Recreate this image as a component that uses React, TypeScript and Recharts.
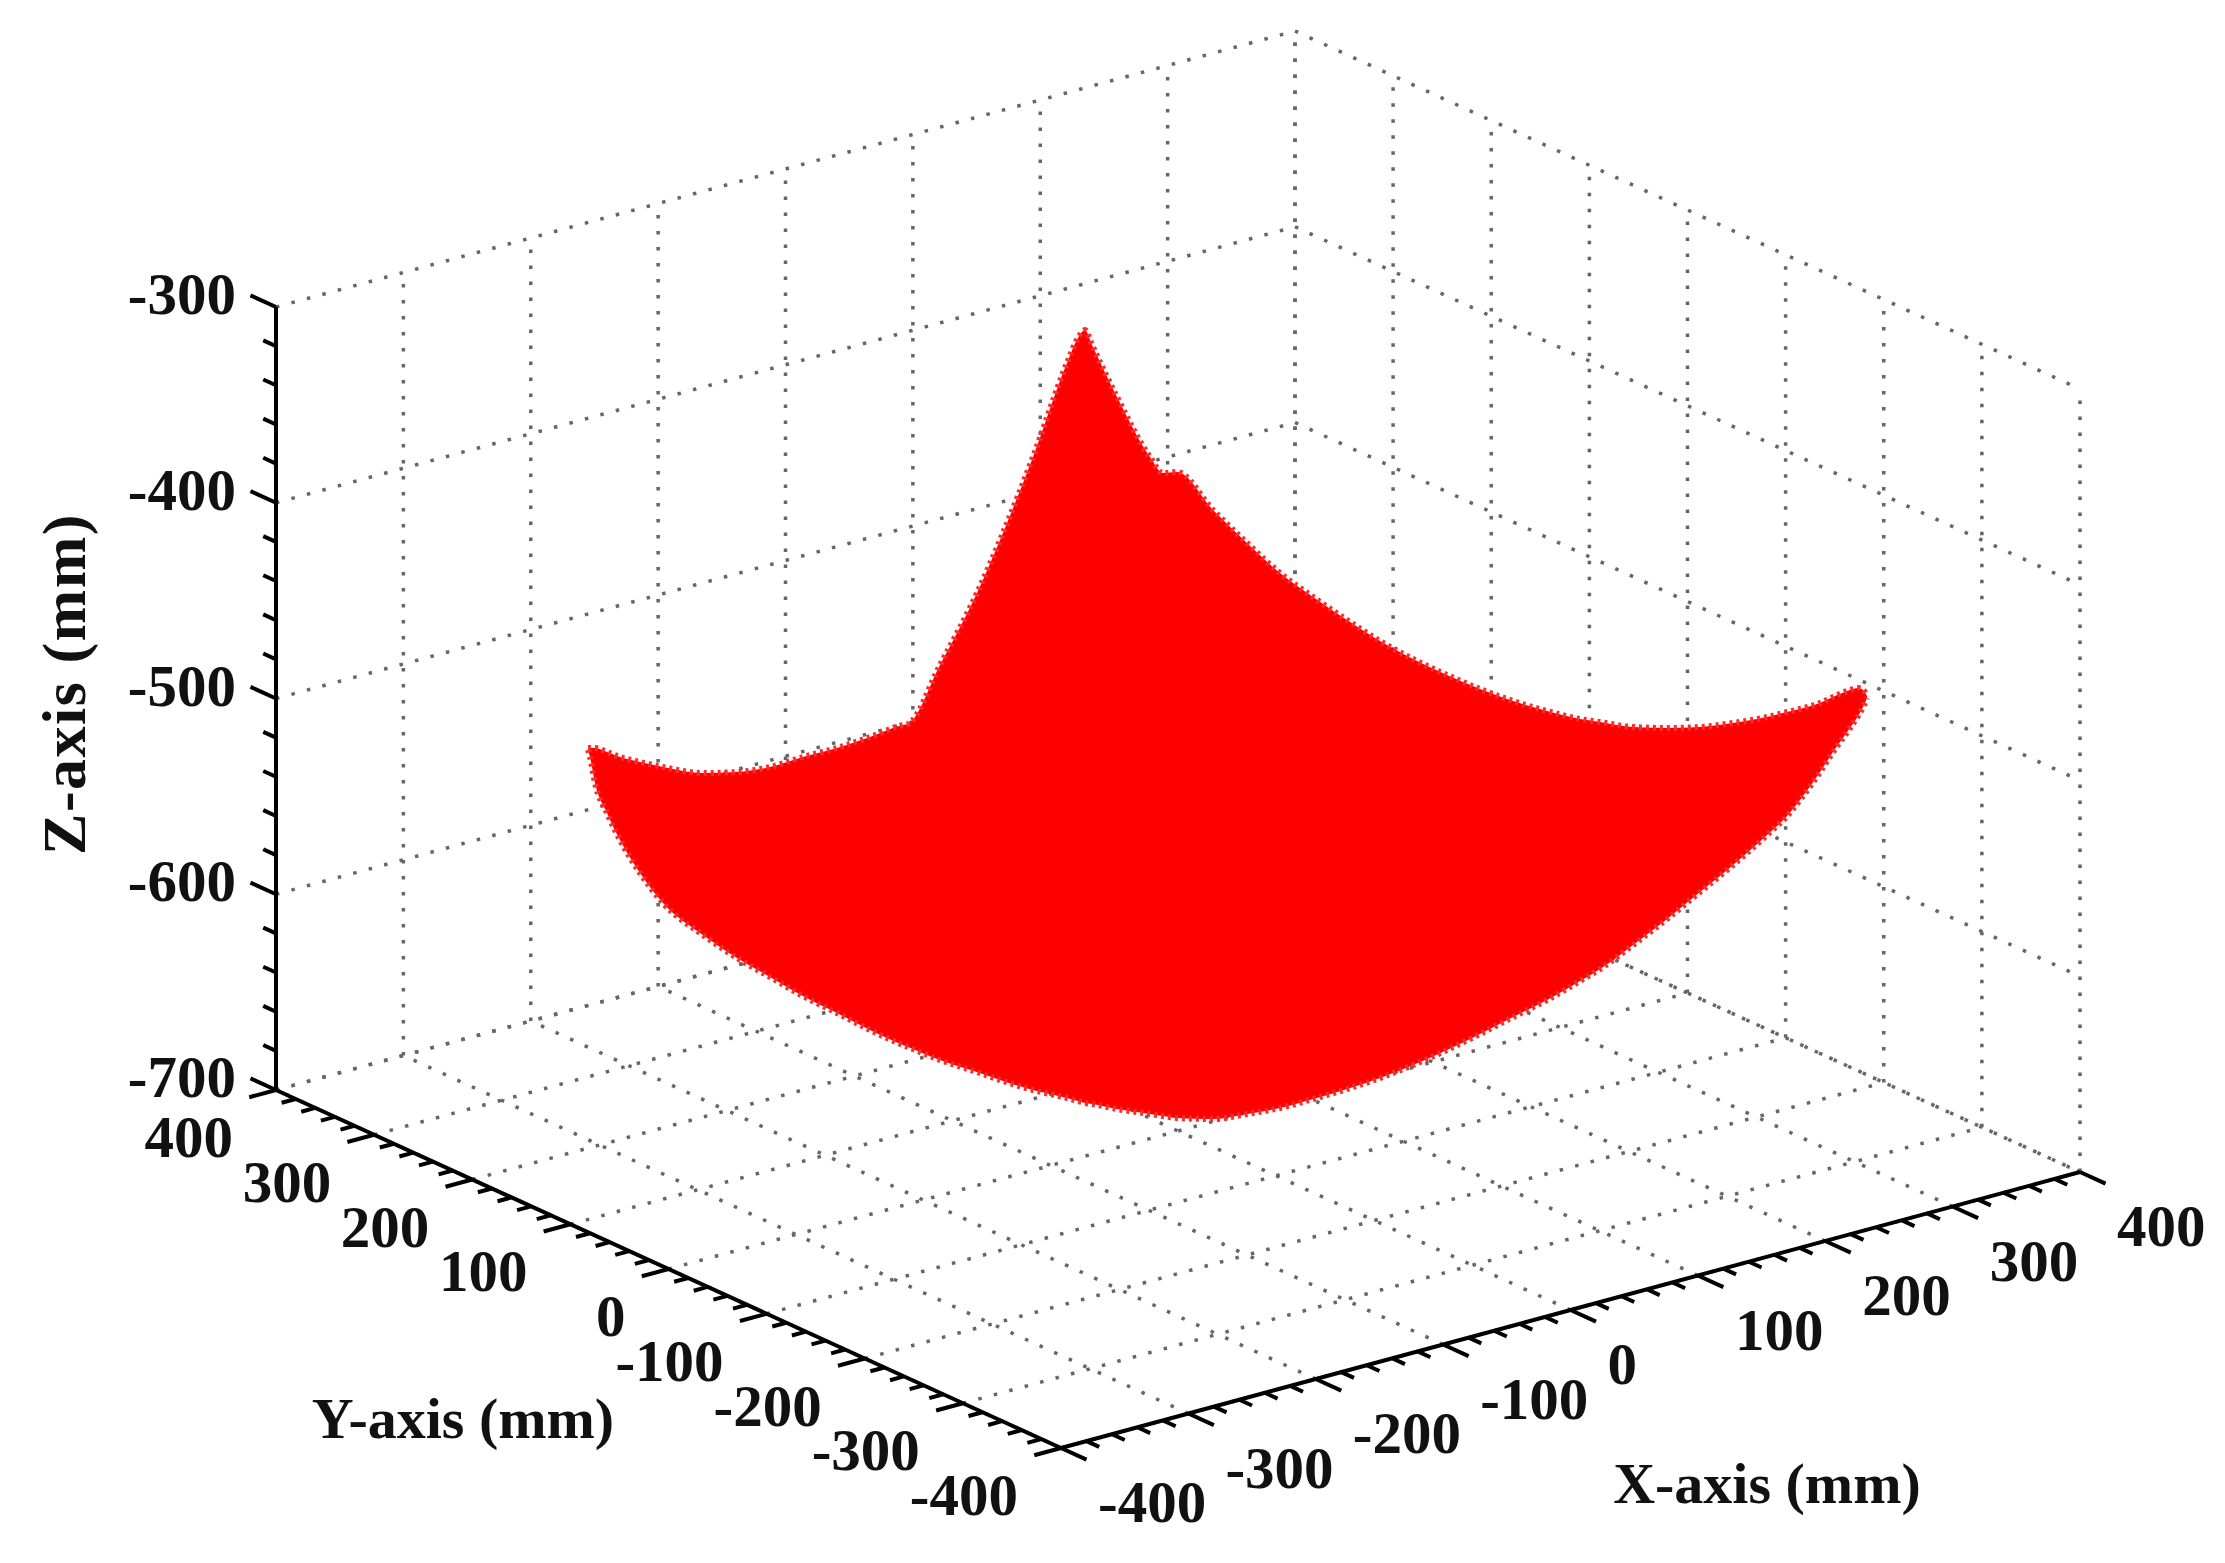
import { Area, ComposedChart, Line, ReferenceLine, Scatter, XAxis, YAxis } from "recharts";

const xTicks = [-400, -300, -200, -100, 0, 100, 200, 300, 400];
const yTicks = [400, 300, 200, 100, 0, -100, -200, -300, -400];
const zTicks = [-300, -400, -500, -600, -700];
const minorStep = 20;

// silhouette of the red point cloud in view units
const surfaceX = [588, 590, 595, 607, 620, 640, 663, 703, 737, 770, 803, 837, 870, 903, 908, 940, 977, 1003, 1033, 1067, 1078, 1085, 1092, 1117, 1150, 1163, 1177, 1213, 1247, 1280, 1313, 1347, 1380, 1413, 1447, 1480, 1513, 1547, 1580, 1600, 1633, 1667, 1700, 1733, 1767, 1787, 1800, 1820, 1833, 1850, 1858, 1863, 1867];
const surfaceTop = [748, 748, 748, 752, 757, 762, 767, 773, 772, 767, 757, 748, 737, 725, 724, 665, 593, 533, 457, 363, 338, 330, 345, 397, 457, 473, 472, 510, 543, 573, 597, 620, 641, 659, 675, 689, 701, 711, 719, 722, 727, 728, 727, 723, 717, 712, 709, 703, 697, 690, 688, 690, 696];
const surfaceBottom = [750, 757, 783, 813, 840, 873, 903, 935, 958, 977, 996, 1013, 1030, 1045, 1047, 1060, 1072, 1081, 1090, 1098, 1101, 1103, 1104, 1109, 1114, 1116, 1118, 1119, 1114, 1108, 1099, 1089, 1078, 1065, 1050, 1034, 1017, 1000, 981, 969, 945, 919, 892, 865, 835, 816, 800, 772, 752, 728, 716, 707, 698];

const surfaceRows = surfaceX.map((sx, i) => ({ sx, band: [surfaceTop[i], surfaceBottom[i]] }));

// orthographic view of the box, fitted to its corners
function project(x: number, y: number, z: number) {
  const u = (x + 400) / 800;
  const v = (y + 400) / 800;
  const w = (z + 700) / 400;
  return {
    sx: 1061 + u * 1019 - v * 785,
    sy: 1448 - u * 276 - v * 358 - w * 783,
  };
}

type Seg = [ReturnType<typeof project>, ReturnType<typeof project>];

const gridSegs: Seg[] = [];
for (const x of xTicks) {
  gridSegs.push([project(x, 400, -700), project(x, 400, -300)]);
  gridSegs.push([project(x, -400, -700), project(x, 400, -700)]);
}
for (const y of yTicks) {
  gridSegs.push([project(400, y, -700), project(400, y, -300)]);
  gridSegs.push([project(-400, y, -700), project(400, y, -700)]);
}
for (const z of zTicks) {
  gridSegs.push([project(-400, 400, z), project(400, 400, z)]);
  gridSegs.push([project(400, 400, z), project(400, -400, z)]);
}

const axisSegs: Seg[] = [
  [project(-400, 400, -300), project(-400, 400, -700)],
  [project(-400, 400, -700), project(-400, -400, -700)],
  [project(-400, -400, -700), project(400, -400, -700)],
];

const tickSegs: Seg[] = [];
for (let v = -400; v <= 400; v += minorStep) {
  const major = v % 100 === 0;
  const xLen = major ? 21 : 11;
  const yLen = major ? 26 : 13;
  tickSegs.push([project(v, -400, -700), project(v, -400 - yLen, -700)]);
  tickSegs.push([project(-400, v, -700), project(-400 - xLen, v, -700)]);
}
for (let z = -700; z <= -300; z += minorStep) {
  const yLen = z % 100 === 0 ? 26 : 13;
  tickSegs.push([project(-400, 400, z), project(-400, 400 + yLen, z)]);
}

const fmt = (v: number) => String(v);
const xLabelRows = xTicks.map((v) => {
  const p = project(v, -400, -700);
  return { sx: p.sx + 37, sy: p.sy + 54, text: fmt(v) };
});
const yLabelRows = yTicks.map((v) => {
  const p = project(-400, v, -700);
  return { sx: p.sx - 43, sy: p.sy + 47, text: fmt(v) };
});
const zLabelRows = zTicks.map((v) => {
  const p = project(-400, 400, v);
  return { sx: p.sx - 40, sy: p.sy - 13, text: fmt(v) };
});

const serif = "'Liberation Serif', 'Times New Roman', serif";

function labelShape(anchor: "start" | "end" | "middle", size: number, rotate = 0) {
  return (props: any) => (
    <text
      x={props.cx}
      y={props.cy}
      textAnchor={anchor}
      dominantBaseline="central"
      fontFamily={serif}
      fontWeight="bold"
      fontSize={size}
      letterSpacing={rotate ? 1.5 : 0}
      fill="#111"
      transform={rotate ? `rotate(${rotate} ${props.cx} ${props.cy})` : undefined}
    >
      {props.payload.text}
    </text>
  );
}

const line = (s: Seg, key: string) => (
  <ReferenceLine
    key={key}
    segment={[
      { x: s[0].sx, y: s[0].sy },
      { x: s[1].sx, y: s[1].sy },
    ]}
    stroke="#000"
    strokeWidth={4}
    ifOverflow="visible"
  />
);

export default function App() {
  return (
    <div style={{ position: "absolute", left: 0, top: 0, width: 2225, height: 1563, background: "#fff" }}>
      <ComposedChart width={2225} height={1563} data={surfaceRows} margin={{ top: 0, right: 0, bottom: 0, left: 0 }}>
        <XAxis type="number" dataKey="sx" domain={[0, 2225]} hide />
        <YAxis type="number" dataKey="sy" domain={[0, 1563]} reversed hide />
        {gridSegs.map((s, i) => (
          <Line
            key={`g${i}`}
            data={s}
            dataKey="sy"
            stroke="#666"
            strokeWidth={3.5}
            strokeDasharray="3.5 12.5"
            dot={false}
            activeDot={false}
            legendType="none"
            isAnimationActive={false}
            {...({ zIndex: 50 } as any)}
          />
        ))}
        <Area
          dataKey="band"
          type="monotoneX"
          fill="#ff0000"
          fillOpacity={1}
          stroke="#ff2a2a"
          strokeWidth={6}
          strokeDasharray="3 4"
          dot={false}
          activeDot={false}
          isAnimationActive={false}
          {...({ zIndex: 100 } as any)}
        />
        {axisSegs.map((s, i) => line(s, `a${i}`))}
        {tickSegs.map((s, i) => line(s, `t${i}`))}
        <Scatter data={xLabelRows} shape={labelShape("start", 59)} isAnimationActive={false} />
        <Scatter data={yLabelRows} shape={labelShape("end", 59)} isAnimationActive={false} />
        <Scatter data={zLabelRows} shape={labelShape("end", 59)} isAnimationActive={false} />
        <Scatter data={[{ sx: 463, sy: 1418, text: "Y-axis (mm)" }]} shape={labelShape("middle", 58)} isAnimationActive={false} />
        <Scatter data={[{ sx: 1767, sy: 1483, text: "X-axis (mm)" }]} shape={labelShape("middle", 58)} isAnimationActive={false} />
        <Scatter data={[{ sx: 64, sy: 684, text: "Z-axis (mm)" }]} shape={labelShape("middle", 62, -90)} isAnimationActive={false} />
      </ComposedChart>
    </div>
  );
}
